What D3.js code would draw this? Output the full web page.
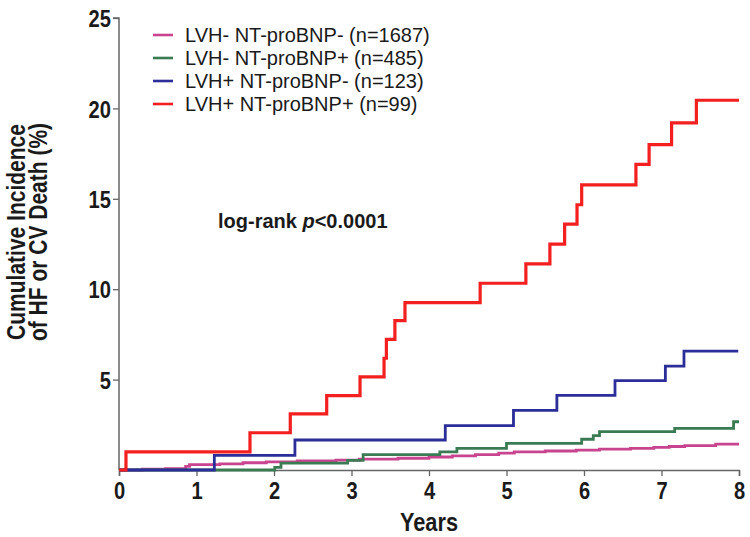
<!DOCTYPE html>
<html lang="en">

<head>
    <meta charset="utf-8">
    <style>
        body { margin: 0; background: #fff; }
        svg { display: block; }
        .bold { font-family: 'Liberation Sans', Arial, sans-serif; font-weight: bold; }
        .plain { font-family: 'Liberation Sans', Arial, sans-serif; }
    </style>
</head>

<body>
    <div class='chart'></div>
    <script src="https://cdn.jsdelivr.net/npm/d3@7"></script>
    <script>
        // legend labels, in drawing order
        const groups = ['LVH- NT-proBNP- (n=1687)', 'LVH- NT-proBNP+ (n=485)', 'LVH+ NT-proBNP- (n=123)', 'LVH+ NT-proBNP+ (n=99)'];
        const colors = ['#c8448f', '#3b7b53', '#2b2d98', '#f41f1f'];

        // step times (years) and cumulative incidence (%) after each step
        const pinkTimes = [0, 0.3, 0.6, 0.86, 0.91, 1.3, 1.6, 1.9, 2.3, 2.8, 3.1, 3.6, 4.0, 4.3, 4.6, 4.9, 5.1, 5.5, 5.9, 6.2, 6.6, 6.9, 7.1, 7.3, 7.7];
        const pinkValues = [0, 0.05, 0.08, 0.2, 0.3, 0.34, 0.4, 0.45, 0.5, 0.55, 0.6, 0.65, 0.72, 0.78, 0.85, 0.93, 1.0, 1.05, 1.1, 1.15, 1.2, 1.25, 1.3, 1.35, 1.43];
        const greenTimes = [0, 2.01, 2.09, 2.95, 3.15, 4.14, 4.36, 5.0, 5.97, 6.12, 6.2, 7.17, 7.93];
        const greenValues = [0, 0.15, 0.38, 0.53, 0.85, 1.0, 1.2, 1.47, 1.7, 1.9, 2.12, 2.3, 2.67];
        const blueTimes = [0, 1.23, 2.27, 4.21, 5.09, 5.65, 6.4, 7.05, 7.29];
        const blueValues = [0, 0.81, 1.66, 2.45, 3.3, 4.13, 4.94, 5.75, 6.58];
        const redTimes = [0, 0.09, 1.69, 2.21, 2.68, 3.11, 3.42, 3.45, 3.56, 3.69, 4.66, 5.25, 5.56, 5.75, 5.91, 5.97, 6.67, 6.84, 7.13, 7.45];
        const redValues = [0, 1.0, 2.06, 3.1, 4.11, 5.15, 6.18, 7.23, 8.26, 9.26, 10.33, 11.4, 12.49, 13.6, 14.67, 15.77, 16.9, 18.0, 19.2, 20.45];
        const endTimes = [8, 8, 7.99, 8];

        const xTicks = [0, 1, 2, 3, 4, 5, 6, 7, 8];
        const yTicks = [5, 10, 15, 20, 25];

        const width = 750, height = 537;
        const squeeze = 0.84; // the original uses a condensed bold face
        const svg = d3.select('.chart').append('svg')
            .attr('width', width)
            .attr('height', height);

        const x = d3.scaleLinear().domain([0, 8]).range([119, 739]);
        const y = d3.scaleLinear().domain([0, 25]).range([470, 18]);

        // axes
        const xAxis = svg.append('g')
            .attr('transform', `translate(0,${y(0)})`)
            .call(d3.axisBottom(x).tickValues(xTicks).tickSize(6).tickPadding(6).tickFormat(d3.format('d')));
        const yAxis = svg.append('g')
            .attr('transform', `translate(${x(0)},0)`)
            .call(d3.axisLeft(y).tickValues(yTicks).tickSize(6).tickPadding(2).tickFormat(d3.format('d')));

        [xAxis, yAxis].forEach(ax => {
            ax.select('.domain').attr('stroke', '#666').attr('stroke-width', 1.5);
            ax.selectAll('.tick line').attr('stroke', '#666').attr('stroke-width', 1.3);
            ax.selectAll('.tick text')
                .attr('class', 'bold')
                .attr('fill', '#1a1a1a')
                .attr('transform', `scale(${squeeze},1)`)
                .style('font-size', '24px');
        });
        yAxis.selectAll('.tick text').attr('x', -8 / squeeze).attr('dy', '0.36em');
        yAxis.select('.domain').attr('d', `M-6,${y(25)}H0V${y(0)}`);

        // curves
        const series = [
            [pinkTimes, pinkValues],
            [greenTimes, greenValues],
            [blueTimes, blueValues],
            [redTimes, redValues]
        ];
        const line = d3.line()
            .x(d => x(d[0]))
            .y(d => y(d[1]))
            .curve(d3.curveStepAfter);

        series.forEach(([times, values], i) => {
            const pts = times.map((t, j) => [t, values[j]]);
            pts.push([endTimes[i], values[values.length - 1]]);
            svg.append('path')
                .datum(pts)
                .attr('d', line)
                .attr('fill', 'none')
                .attr('stroke', colors[i])
                .attr('stroke-width', i === 3 ? 3.2 : 2.8);
        });

        // legend
        const legend = svg.append('g').attr('class', 'legend');
        groups.forEach((g, i) => {
            const cy = 35 + i * 23;
            legend.append('line')
                .attr('x1', 153).attr('x2', 173)
                .attr('y1', cy).attr('y2', cy)
                .attr('stroke', colors[i]).attr('stroke-width', 2.6);
            legend.append('text')
                .attr('class', 'plain')
                .attr('x', 185).attr('y', cy + 7)
                .style('font-size', '20px')
                .attr('fill', '#1a1a1a')
                .text(g);
        });

        // log-rank annotation
        const note = svg.append('text')
            .attr('x', 218).attr('y', 228)
            .attr('class', 'bold')
            .style('font-size', '20px')
            .attr('fill', '#1a1a1a');
        note.append('tspan').text('log-rank ');
        note.append('tspan').style('font-style', 'italic').text('p');
        note.append('tspan').text('<0.0001');

        // axis titles
        svg.append('text')
            .attr('class', 'bold')
            .attr('transform', `translate(${x(4)},531) scale(0.87,1)`)
            .attr('text-anchor', 'middle')
            .style('font-size', '25px')
            .attr('fill', '#1a1a1a')
            .text('Years');

        const yTitle = svg.append('text')
            .attr('class', 'bold')
            .attr('transform', `translate(0,232) rotate(-90) scale(${squeeze},1)`)
            .attr('text-anchor', 'middle')
            .style('font-size', '25px')
            .attr('fill', '#1a1a1a');
        yTitle.append('tspan').attr('x', 0).attr('y', 25).text('Cumulative Incidence');
        yTitle.append('tspan').attr('x', 0).attr('y', 47).text('of HF or CV Death (%)');
    </script>
</body>

</html>
